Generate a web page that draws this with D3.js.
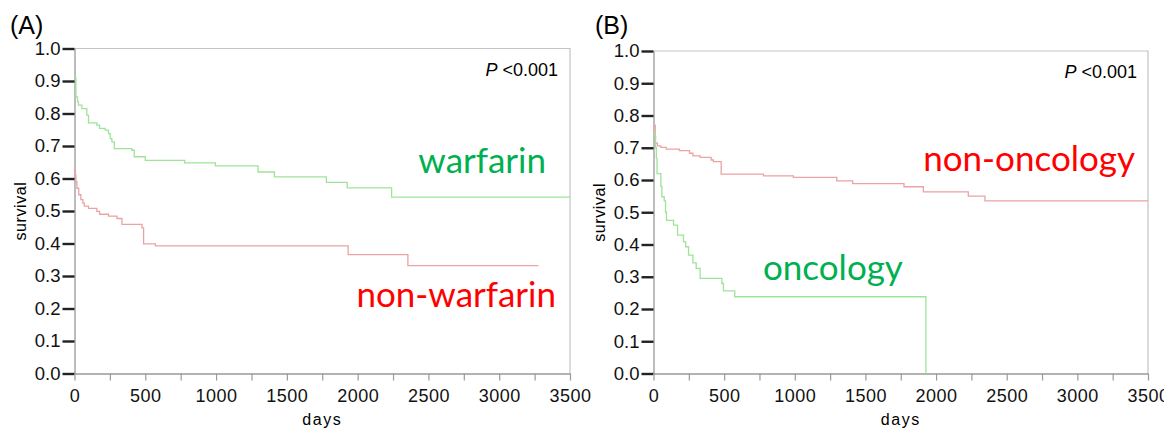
<!DOCTYPE html>
<html>
<head>
<meta charset="utf-8">
<script src="https://cdn.jsdelivr.net/npm/d3@7"></script>
<style>
  body { margin: 0; background: #fff; }
  svg { display: block; }
</style>
</head>
<body>
<svg id="chart" width="1164" height="430"></svg>
<script>
// Kaplan-Meier step data (days, survival)
const warfarinDays = [0, 10, 21, 28, 52, 87, 99, 158, 177, 217, 240, 252, 264, 281, 406, 422, 500, 778, 995, 1297, 1412, 1779, 1926, 2240, 3500]
const warfarinSurv = [0.911, 0.851, 0.836, 0.826, 0.815, 0.795, 0.771, 0.764, 0.754, 0.749, 0.738, 0.723, 0.713, 0.692, 0.687, 0.667, 0.656, 0.648, 0.639, 0.620, 0.605, 0.588, 0.571, 0.543, 0.543]

const nonWarfarinDays = [0, 5, 10, 17, 30, 45, 59, 69, 99, 158, 177, 240, 300, 335, 477, 488, 571, 1933, 2355, 3277]
const nonWarfarinSurv = [0.63, 0.61, 0.59, 0.57, 0.55, 0.535, 0.524, 0.515, 0.508, 0.499, 0.490, 0.484, 0.477, 0.459, 0.448, 0.399, 0.393, 0.366, 0.332, 0.332]

const oncologyDays = [0, 8, 15, 20, 25, 52, 59, 76, 85, 92, 142, 170, 212, 228, 248, 279, 302, 330, 484, 495, 575, 1928, 1928]
const oncologySurv = [0.745, 0.735, 0.70, 0.667, 0.62, 0.58, 0.548, 0.535, 0.50, 0.475, 0.46, 0.429, 0.408, 0.393, 0.367, 0.343, 0.326, 0.295, 0.279, 0.256, 0.238, 0.238, 0.0]

const nonOncologyDays = [0, 12, 28, 52, 90, 184, 255, 279, 330, 408, 424, 479, 778, 990, 1297, 1410, 1773, 1910, 2228, 2346, 3500]
const nonOncologySurv = [0.77, 0.714, 0.706, 0.701, 0.696, 0.691, 0.683, 0.675, 0.670, 0.662, 0.657, 0.618, 0.613, 0.608, 0.597, 0.589, 0.579, 0.563, 0.550, 0.535, 0.535]

const yTicks = [0, 0.1, 0.2, 0.3, 0.4, 0.5, 0.6, 0.7, 0.8, 0.9, 1.0]
const xLabelTicks = [0, 500, 1000, 1500, 2000, 2500, 3000, 3500]
const xMinorTicks = [0, 250, 500, 750, 1000, 1250, 1500, 1750, 2000, 2250, 2500, 2750, 3000, 3250, 3500]

const green = '#00b050'
const red = '#ff0000'
const greenLine = '#9fe39a'
const redLine = '#eba3a3'
const font = 'Liberation Sans, Arial, sans-serif'

const svg = d3.select('#chart')

function zip(days, surv) {
  return days.map((d, i) => [d, surv[i]])
}

function drawPanel(opts) {
  const { left, top, right, bottom } = opts
  const x = d3.scaleLinear().domain([0, 3500]).range([left, right])
  const y = d3.scaleLinear().domain([0, 1]).range([bottom, top])
  const g = svg.append('g')

  // panel tag
  g.append('text')
    .attr('x', opts.tagX).attr('y', 34)
    .style('font-family', font)
    .style('font-size', '25px')
    .text(opts.tag)

  // frame (top + right)
  g.append('path')
    .attr('d', `M${left},${top}H${right}V${bottom}`)
    .attr('fill', 'none')
    .attr('stroke', '#c4c4c4')
    .attr('stroke-width', 1.2)

  // y axis
  const yAxis = g.append('g').attr('transform', `translate(${left},0)`)
    .call(d3.axisLeft(y).tickValues(yTicks).tickFormat(d3.format('.1f')).tickSize(12).tickSizeOuter(0))
  yAxis.select('.domain').attr('stroke', '#9a9a9a').attr('stroke-width', 1.3)
  yAxis.selectAll('.tick line').attr('stroke', '#222').attr('stroke-width', 2.4)
  yAxis.selectAll('.tick text')
    .attr('x', -14)
    .style('font-family', font)
    .style('font-size', '18.5px')
    .attr('fill', '#111')

  // x axis: minor ticks every 250, labels every 500
  const xAxis = g.append('g').attr('transform', `translate(0,${bottom})`)
    .call(d3.axisBottom(x).tickValues(xMinorTicks)
      .tickFormat(d => xLabelTicks.includes(d) ? d : '')
      .tickSize(7).tickSizeOuter(0))
  xAxis.select('.domain').attr('stroke', '#9a9a9a').attr('stroke-width', 1.3)
  xAxis.selectAll('.tick line').attr('stroke', '#9a9a9a').attr('stroke-width', 1.2)
  xAxis.selectAll('.tick text')
    .attr('y', 16)
    .style('font-family', font)
    .style('font-size', '18px')
    .style('letter-spacing', '0.5px')
    .attr('fill', '#111')

  // axis titles
  g.append('text')
    .attr('x', (left + right) / 2).attr('y', 425)
    .attr('text-anchor', 'middle')
    .style('font-family', font)
    .style('font-size', '16px')
    .style('letter-spacing', '1.5px')
    .text('days')
  g.append('text')
    .attr('transform', `translate(${left - 49},${(top + bottom) / 2}) rotate(-90)`)
    .attr('text-anchor', 'middle')
    .style('font-family', font)
    .style('font-size', '16px')
    .style('letter-spacing', '0.6px')
    .text('survival')

  // P value
  const p = g.append('text')
    .attr('x', opts.pX).attr('y', top + 27)
    .attr('text-anchor', 'end')
    .style('font-family', font)
    .style('font-size', '18px')
  p.append('tspan').style('font-style', 'italic').text('P')
  p.append('tspan').text(' <0.001')

  // curves
  const line = d3.line().x(d => x(d[0])).y(d => y(d[1])).curve(d3.curveStepAfter)
  opts.series.forEach(s => {
    g.append('path')
      .datum(zip(s.days, s.surv))
      .attr('fill', 'none')
      .attr('stroke', s.stroke)
      .attr('stroke-width', 1.3)
      .attr('d', line)
  })

  // series labels
  opts.labels.forEach(l => {
    g.append('text')
      .attr('x', l.x).attr('y', l.y)
      .attr('text-anchor', l.anchor)
      .attr('fill', l.color)
      .style('font-family', 'Lato, Open Sans, sans-serif')
      .style('font-size', '35px')
      .text(l.text)
  })
}

drawPanel({
  tag: '(A)', tagX: 10,
  left: 74.5, top: 48.5, right: 570, bottom: 373.5,
  pX: 558,
  series: [
    { days: warfarinDays, surv: warfarinSurv, stroke: greenLine },
    { days: nonWarfarinDays, surv: nonWarfarinSurv, stroke: redLine }
  ],
  labels: [
    { text: 'warfarin', x: 546, y: 173, anchor: 'end', color: green },
    { text: 'non-warfarin', x: 556, y: 307, anchor: 'end', color: red }
  ]
})

drawPanel({
  tag: '(B)', tagX: 595,
  left: 653.5, top: 51, right: 1148, bottom: 373.5,
  pX: 1137,
  series: [
    { days: nonOncologyDays, surv: nonOncologySurv, stroke: redLine },
    { days: oncologyDays, surv: oncologySurv, stroke: greenLine }
  ],
  labels: [
    { text: 'non-oncology', x: 1135, y: 171, anchor: 'end', color: red },
    { text: 'oncology', x: 763, y: 280, anchor: 'start', color: green }
  ]
})
</script>
</body>
</html>
